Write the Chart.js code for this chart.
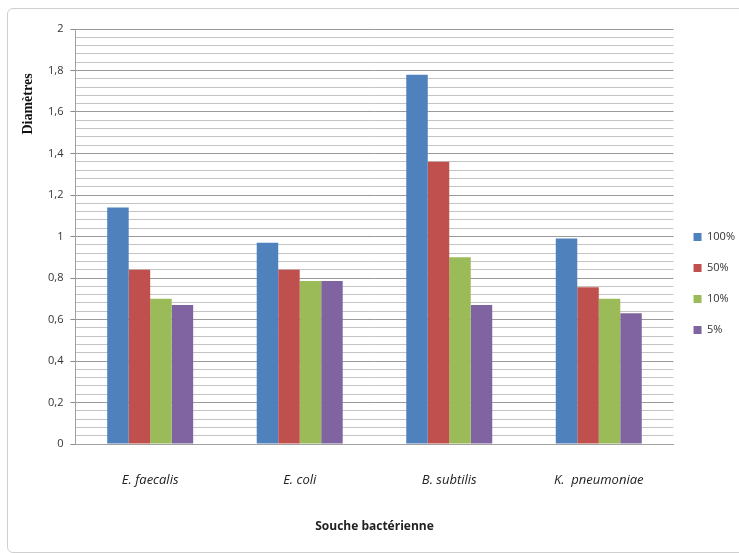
<!DOCTYPE html>
<html>
<head>
<meta charset="utf-8">
<script src="https://cdn.jsdelivr.net/npm/chart.js@4"></script>
<style>
  body { margin: 0; background: #fff; overflow: hidden; }
  #frame { position: absolute; left: 7px; top: 8px; width: 740px; height: 543px; border: 1px solid #cfcfcf; border-radius: 6px; }
  #wrap { position: absolute; left: 0; top: 0; width: 739px; height: 553px; }
</style>
</head>
<body>
<div id="frame"></div>
<div id="wrap"><canvas id="myChart"></canvas></div>
<script>
const strains = ["E. faecalis", "E. coli", "B. subtilis", "K.  pneumoniae"];
const dose100 = [1.14, 0.97, 1.78, 0.99];
const dose50 = [0.84, 0.84, 1.36, 0.755];
const dose10 = [0.70, 0.785, 0.90, 0.70];
const dose5 = [0.67, 0.785, 0.67, 0.63];

const font = "'Open Sans', 'Liberation Sans', sans-serif";

const isMajor = (v) => Math.round(v * 100) % 20 === 0;

// y title sits near the top of the axis, like the original
const yTitle = {
  id: "yTitle",
  afterDraw(chart) {
    const ctx = chart.ctx;
    const area = chart.chartArea;
    ctx.save();
    ctx.translate(28, area.top + 75);
    ctx.rotate(-Math.PI / 2);
    ctx.font = "bold 14px 'Liberation Serif', 'DejaVu Serif', serif";
    ctx.fillStyle = "#111";
    ctx.textAlign = "center";
    ctx.textBaseline = "middle";
    ctx.fillText("Diamètres", 0, 0);
    ctx.restore();
  },
};

const ctx = document.getElementById("myChart");
new Chart(ctx, {
  type: "bar",
  data: {
    labels: strains,
    datasets: [
      { label: "100%", data: dose100, backgroundColor: "#4F81BD" },
      { label: "50%", data: dose50, backgroundColor: "#C0504D" },
      { label: "10%", data: dose10, backgroundColor: "#9BBB59" },
      { label: "5%", data: dose5, backgroundColor: "#8064A2" },
    ],
  },
  options: {
    responsive: true,
    maintainAspectRatio: false,
    animation: false,
    layout: { padding: { left: 41, top: 29, right: -6, bottom: 15 } },
    datasets: { bar: { categoryPercentage: 0.575, barPercentage: 1 } },
    plugins: {
      legend: {
        position: "right",
        labels: {
          boxWidth: 8,
          boxHeight: 8,
          padding: 20,
          color: "#333",
          font: { family: font, size: 11 },
        },
      },
      tooltip: { enabled: false },
    },
    scales: {
      x: {
        grid: { display: false },
        border: { display: true, color: "#a0a0a0" },
        ticks: {
          padding: 20,
          color: "#222",
          font: { family: font, size: 13, style: "italic" },
          maxRotation: 0,
        },
        title: {
          display: true,
          text: "Souche bactérienne",
          color: "#222",
          font: { family: font, size: 12, weight: "bold" },
          padding: { top: 12 },
        },
      },
      y: {
        min: 0,
        max: 2,
        border: { color: "#a0a0a0" },
        grid: {
          color: (c) => (isMajor(c.tick.value) ? "#9a9a9a" : "#c4c4c4"),
          tickColor: (c) => (isMajor(c.tick.value) ? "#8a8a8a" : "rgba(0,0,0,0)"),
          tickLength: 5,
        },
        ticks: {
          stepSize: 0.04,
          maxTicksLimit: 60,
          autoSkip: false,
          padding: 7,
          color: "#333",
          font: { family: font, size: 11 },
          callback: (value) => {
            const k = Math.round(value * 100);
            if (k % 20) return "";
            return String(k / 100).replace(".", ",");
          },
        },
      },
    },
  },
  plugins: [yTitle],
});
</script>
</body>
</html>
